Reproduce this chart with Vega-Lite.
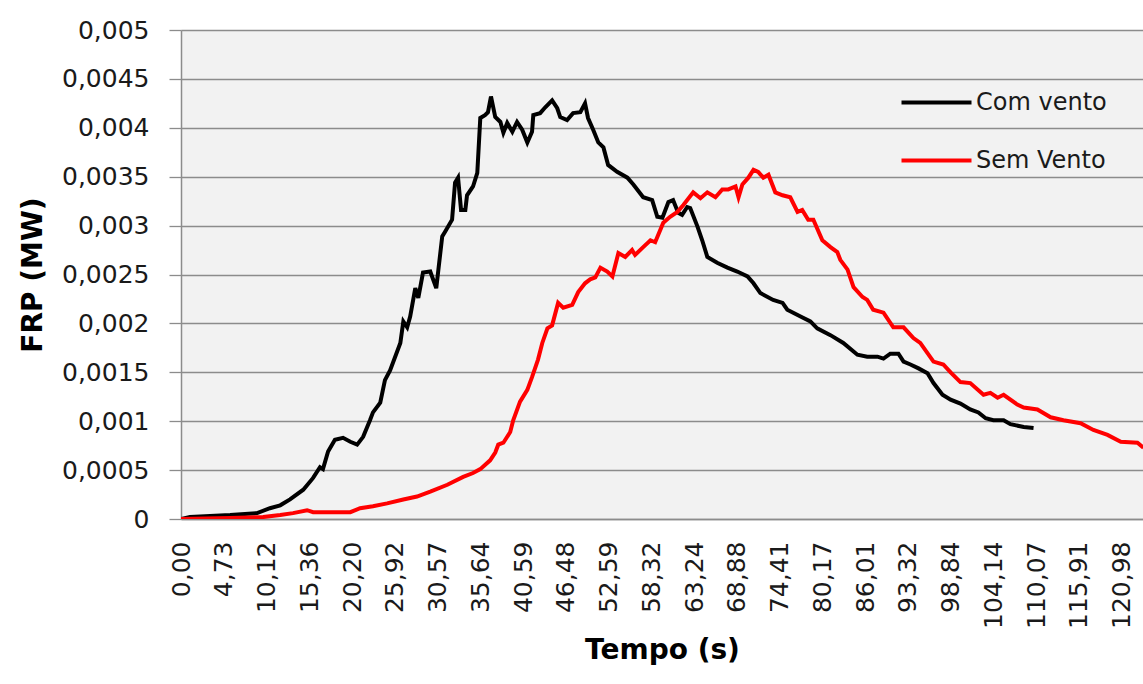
{
  "$schema": "https://vega.github.io/schema/vega-lite/v6.json",
  "width": 962,
  "height": 489,
  "autosize": "none",
  "padding": {"left": 181, "top": 30, "right": 0, "bottom": 165},
  "background": "white",
  "config": {"view": {"fill": "#f2f2f2", "stroke": null}, "font": "DejaVu Sans"},
  "data": {"values": [
    {"s":"Com vento","p":0,"v":0},
    {"s":"Com vento","p":0.21,"v":0.00002},
    {"s":"Com vento","p":1.15,"v":0.00004},
    {"s":"Com vento","p":1.78,"v":0.00006},
    {"s":"Com vento","p":2.08,"v":0.00011},
    {"s":"Com vento","p":2.32,"v":0.00014},
    {"s":"Com vento","p":2.55,"v":0.0002},
    {"s":"Com vento","p":2.86,"v":0.0003},
    {"s":"Com vento","p":3.09,"v":0.00042},
    {"s":"Com vento","p":3.25,"v":0.00053},
    {"s":"Com vento","p":3.32,"v":0.00051},
    {"s":"Com vento","p":3.44,"v":0.00069},
    {"s":"Com vento","p":3.6,"v":0.00081},
    {"s":"Com vento","p":3.79,"v":0.00083},
    {"s":"Com vento","p":3.96,"v":0.00079},
    {"s":"Com vento","p":4.12,"v":0.00076},
    {"s":"Com vento","p":4.26,"v":0.00084},
    {"s":"Com vento","p":4.42,"v":0.00101},
    {"s":"Com vento","p":4.49,"v":0.00109},
    {"s":"Com vento","p":4.66,"v":0.00119},
    {"s":"Com vento","p":4.77,"v":0.00142},
    {"s":"Com vento","p":4.89,"v":0.00152},
    {"s":"Com vento","p":5.13,"v":0.0018},
    {"s":"Com vento","p":5.2,"v":0.00202},
    {"s":"Com vento","p":5.29,"v":0.00196},
    {"s":"Com vento","p":5.36,"v":0.00207},
    {"s":"Com vento","p":5.48,"v":0.00236},
    {"s":"Com vento","p":5.55,"v":0.00226},
    {"s":"Com vento","p":5.66,"v":0.00252},
    {"s":"Com vento","p":5.83,"v":0.00253},
    {"s":"Com vento","p":5.97,"v":0.00236},
    {"s":"Com vento","p":6.11,"v":0.00289},
    {"s":"Com vento","p":6.18,"v":0.00294},
    {"s":"Com vento","p":6.34,"v":0.00306},
    {"s":"Com vento","p":6.41,"v":0.00344},
    {"s":"Com vento","p":6.48,"v":0.00349},
    {"s":"Com vento","p":6.55,"v":0.00316},
    {"s":"Com vento","p":6.65,"v":0.00316},
    {"s":"Com vento","p":6.69,"v":0.00331},
    {"s":"Com vento","p":6.83,"v":0.0034},
    {"s":"Com vento","p":6.93,"v":0.00354},
    {"s":"Com vento","p":7.0,"v":0.0041},
    {"s":"Com vento","p":7.11,"v":0.00413},
    {"s":"Com vento","p":7.18,"v":0.00416},
    {"s":"Com vento","p":7.25,"v":0.00432},
    {"s":"Com vento","p":7.35,"v":0.00411},
    {"s":"Com vento","p":7.47,"v":0.00406},
    {"s":"Com vento","p":7.54,"v":0.00395},
    {"s":"Com vento","p":7.63,"v":0.00405},
    {"s":"Com vento","p":7.75,"v":0.00396},
    {"s":"Com vento","p":7.86,"v":0.00406},
    {"s":"Com vento","p":7.98,"v":0.00398},
    {"s":"Com vento","p":8.1,"v":0.00385},
    {"s":"Com vento","p":8.21,"v":0.00396},
    {"s":"Com vento","p":8.24,"v":0.00413},
    {"s":"Com vento","p":8.4,"v":0.00415},
    {"s":"Com vento","p":8.52,"v":0.00421},
    {"s":"Com vento","p":8.68,"v":0.00428},
    {"s":"Com vento","p":8.8,"v":0.0042},
    {"s":"Com vento","p":8.87,"v":0.00411},
    {"s":"Com vento","p":9.03,"v":0.00408},
    {"s":"Com vento","p":9.17,"v":0.00415},
    {"s":"Com vento","p":9.34,"v":0.00416},
    {"s":"Com vento","p":9.45,"v":0.00425},
    {"s":"Com vento","p":9.52,"v":0.0041},
    {"s":"Com vento","p":9.64,"v":0.00398},
    {"s":"Com vento","p":9.76,"v":0.00385},
    {"s":"Com vento","p":9.88,"v":0.0038},
    {"s":"Com vento","p":9.99,"v":0.00362},
    {"s":"Com vento","p":10.2,"v":0.00355},
    {"s":"Com vento","p":10.44,"v":0.00349},
    {"s":"Com vento","p":10.58,"v":0.00342},
    {"s":"Com vento","p":10.81,"v":0.00329},
    {"s":"Com vento","p":11.02,"v":0.00326},
    {"s":"Com vento","p":11.14,"v":0.00309},
    {"s":"Com vento","p":11.26,"v":0.00308},
    {"s":"Com vento","p":11.4,"v":0.00324},
    {"s":"Com vento","p":11.51,"v":0.00326},
    {"s":"Com vento","p":11.63,"v":0.00313},
    {"s":"Com vento","p":11.72,"v":0.00311},
    {"s":"Com vento","p":11.84,"v":0.00319},
    {"s":"Com vento","p":11.91,"v":0.00318},
    {"s":"Com vento","p":12.08,"v":0.00299},
    {"s":"Com vento","p":12.19,"v":0.00285},
    {"s":"Com vento","p":12.31,"v":0.00268},
    {"s":"Com vento","p":12.54,"v":0.00262},
    {"s":"Com vento","p":12.78,"v":0.00257},
    {"s":"Com vento","p":13.01,"v":0.00253},
    {"s":"Com vento","p":13.25,"v":0.00248},
    {"s":"Com vento","p":13.39,"v":0.00241},
    {"s":"Com vento","p":13.55,"v":0.00231},
    {"s":"Com vento","p":13.85,"v":0.00224},
    {"s":"Com vento","p":14.07,"v":0.00221},
    {"s":"Com vento","p":14.18,"v":0.00214},
    {"s":"Com vento","p":14.49,"v":0.00207},
    {"s":"Com vento","p":14.72,"v":0.00202},
    {"s":"Com vento","p":14.88,"v":0.00195},
    {"s":"Com vento","p":15.19,"v":0.00188},
    {"s":"Com vento","p":15.49,"v":0.0018},
    {"s":"Com vento","p":15.82,"v":0.00168},
    {"s":"Com vento","p":16.05,"v":0.00166},
    {"s":"Com vento","p":16.29,"v":0.00166},
    {"s":"Com vento","p":16.43,"v":0.00164},
    {"s":"Com vento","p":16.59,"v":0.00169},
    {"s":"Com vento","p":16.78,"v":0.00169},
    {"s":"Com vento","p":16.9,"v":0.00161},
    {"s":"Com vento","p":17.06,"v":0.00158},
    {"s":"Com vento","p":17.25,"v":0.00154},
    {"s":"Com vento","p":17.46,"v":0.00149},
    {"s":"Com vento","p":17.6,"v":0.00139},
    {"s":"Com vento","p":17.81,"v":0.00127},
    {"s":"Com vento","p":18.0,"v":0.00122},
    {"s":"Com vento","p":18.23,"v":0.00118},
    {"s":"Com vento","p":18.46,"v":0.00112},
    {"s":"Com vento","p":18.65,"v":0.00109},
    {"s":"Com vento","p":18.82,"v":0.00103},
    {"s":"Com vento","p":19.0,"v":0.00101},
    {"s":"Com vento","p":19.24,"v":0.00101},
    {"s":"Com vento","p":19.4,"v":0.00097},
    {"s":"Com vento","p":19.71,"v":0.00094},
    {"s":"Com vento","p":19.94,"v":0.00093},
    {"s":"Sem Vento","p":0,"v":0},
    {"s":"Sem Vento","p":1.15,"v":0.00001},
    {"s":"Sem Vento","p":1.92,"v":0.00002},
    {"s":"Sem Vento","p":2.32,"v":0.00004},
    {"s":"Sem Vento","p":2.62,"v":0.00006},
    {"s":"Sem Vento","p":2.95,"v":0.00009},
    {"s":"Sem Vento","p":3.09,"v":0.00007},
    {"s":"Sem Vento","p":3.49,"v":0.00007},
    {"s":"Sem Vento","p":3.96,"v":0.00007},
    {"s":"Sem Vento","p":4.19,"v":0.00011},
    {"s":"Sem Vento","p":4.49,"v":0.00013},
    {"s":"Sem Vento","p":4.82,"v":0.00016},
    {"s":"Sem Vento","p":5.2,"v":0.0002},
    {"s":"Sem Vento","p":5.52,"v":0.00023},
    {"s":"Sem Vento","p":5.83,"v":0.00028},
    {"s":"Sem Vento","p":6.23,"v":0.00035},
    {"s":"Sem Vento","p":6.6,"v":0.00043},
    {"s":"Sem Vento","p":6.83,"v":0.00047},
    {"s":"Sem Vento","p":7.0,"v":0.00051},
    {"s":"Sem Vento","p":7.23,"v":0.0006},
    {"s":"Sem Vento","p":7.35,"v":0.00068},
    {"s":"Sem Vento","p":7.42,"v":0.00076},
    {"s":"Sem Vento","p":7.54,"v":0.00078},
    {"s":"Sem Vento","p":7.7,"v":0.00089},
    {"s":"Sem Vento","p":7.77,"v":0.00101},
    {"s":"Sem Vento","p":7.93,"v":0.0012},
    {"s":"Sem Vento","p":8.1,"v":0.00132},
    {"s":"Sem Vento","p":8.21,"v":0.00145},
    {"s":"Sem Vento","p":8.35,"v":0.00163},
    {"s":"Sem Vento","p":8.45,"v":0.0018},
    {"s":"Sem Vento","p":8.57,"v":0.00195},
    {"s":"Sem Vento","p":8.68,"v":0.00198},
    {"s":"Sem Vento","p":8.82,"v":0.00221},
    {"s":"Sem Vento","p":8.94,"v":0.00216},
    {"s":"Sem Vento","p":9.15,"v":0.00219},
    {"s":"Sem Vento","p":9.29,"v":0.00232},
    {"s":"Sem Vento","p":9.45,"v":0.00241},
    {"s":"Sem Vento","p":9.57,"v":0.00245},
    {"s":"Sem Vento","p":9.69,"v":0.00247},
    {"s":"Sem Vento","p":9.81,"v":0.00257},
    {"s":"Sem Vento","p":9.97,"v":0.00253},
    {"s":"Sem Vento","p":10.09,"v":0.00248},
    {"s":"Sem Vento","p":10.23,"v":0.00272},
    {"s":"Sem Vento","p":10.39,"v":0.00268},
    {"s":"Sem Vento","p":10.55,"v":0.00275},
    {"s":"Sem Vento","p":10.62,"v":0.0027},
    {"s":"Sem Vento","p":10.81,"v":0.00278},
    {"s":"Sem Vento","p":10.98,"v":0.00285},
    {"s":"Sem Vento","p":11.09,"v":0.00283},
    {"s":"Sem Vento","p":11.28,"v":0.00303},
    {"s":"Sem Vento","p":11.44,"v":0.00309},
    {"s":"Sem Vento","p":11.61,"v":0.00314},
    {"s":"Sem Vento","p":11.75,"v":0.00321},
    {"s":"Sem Vento","p":11.98,"v":0.00334},
    {"s":"Sem Vento","p":12.15,"v":0.00328},
    {"s":"Sem Vento","p":12.31,"v":0.00334},
    {"s":"Sem Vento","p":12.5,"v":0.00329},
    {"s":"Sem Vento","p":12.66,"v":0.00337},
    {"s":"Sem Vento","p":12.8,"v":0.00337},
    {"s":"Sem Vento","p":12.97,"v":0.0034},
    {"s":"Sem Vento","p":13.04,"v":0.00329},
    {"s":"Sem Vento","p":13.13,"v":0.00342},
    {"s":"Sem Vento","p":13.27,"v":0.00349},
    {"s":"Sem Vento","p":13.39,"v":0.00357},
    {"s":"Sem Vento","p":13.5,"v":0.00355},
    {"s":"Sem Vento","p":13.62,"v":0.00349},
    {"s":"Sem Vento","p":13.74,"v":0.00352},
    {"s":"Sem Vento","p":13.9,"v":0.00334},
    {"s":"Sem Vento","p":14.07,"v":0.00331},
    {"s":"Sem Vento","p":14.25,"v":0.00329},
    {"s":"Sem Vento","p":14.42,"v":0.00314},
    {"s":"Sem Vento","p":14.53,"v":0.00316},
    {"s":"Sem Vento","p":14.67,"v":0.00306},
    {"s":"Sem Vento","p":14.79,"v":0.00306},
    {"s":"Sem Vento","p":15.0,"v":0.00285},
    {"s":"Sem Vento","p":15.19,"v":0.00278},
    {"s":"Sem Vento","p":15.35,"v":0.00273},
    {"s":"Sem Vento","p":15.42,"v":0.00265},
    {"s":"Sem Vento","p":15.59,"v":0.00255},
    {"s":"Sem Vento","p":15.73,"v":0.00237},
    {"s":"Sem Vento","p":15.94,"v":0.00227},
    {"s":"Sem Vento","p":16.05,"v":0.00224},
    {"s":"Sem Vento","p":16.19,"v":0.00214},
    {"s":"Sem Vento","p":16.43,"v":0.00211},
    {"s":"Sem Vento","p":16.66,"v":0.00196},
    {"s":"Sem Vento","p":16.9,"v":0.00196},
    {"s":"Sem Vento","p":17.13,"v":0.00185},
    {"s":"Sem Vento","p":17.29,"v":0.0018},
    {"s":"Sem Vento","p":17.6,"v":0.00161},
    {"s":"Sem Vento","p":17.83,"v":0.00158},
    {"s":"Sem Vento","p":18.0,"v":0.0015},
    {"s":"Sem Vento","p":18.23,"v":0.0014},
    {"s":"Sem Vento","p":18.46,"v":0.00139},
    {"s":"Sem Vento","p":18.77,"v":0.00127},
    {"s":"Sem Vento","p":18.93,"v":0.00129},
    {"s":"Sem Vento","p":19.1,"v":0.00124},
    {"s":"Sem Vento","p":19.24,"v":0.00127},
    {"s":"Sem Vento","p":19.56,"v":0.00117},
    {"s":"Sem Vento","p":19.71,"v":0.00114},
    {"s":"Sem Vento","p":20.03,"v":0.00112},
    {"s":"Sem Vento","p":20.34,"v":0.00104},
    {"s":"Sem Vento","p":20.64,"v":0.00101},
    {"s":"Sem Vento","p":21.04,"v":0.00098},
    {"s":"Sem Vento","p":21.34,"v":0.00091},
    {"s":"Sem Vento","p":21.67,"v":0.00086},
    {"s":"Sem Vento","p":21.98,"v":0.00079},
    {"s":"Sem Vento","p":22.37,"v":0.00078},
    {"s":"Sem Vento","p":22.51,"v":0.00073}
  ]},
  "mark": {"type": "line", "strokeWidth": 4, "clip": true},
  "encoding": {
    "x": {
      "field": "p", "type": "quantitative",
      "scale": {"domain": [0, 22.5], "nice": false, "zero": false},
      "axis": {
        "values": [0,1,2,3,4,5,6,7,8,9,10,11,12,13,14,15,16,17,18,19,20,21,22],
        "labelExpr": "['0,00','4,73','10,12','15,36','20,20','25,92','30,57','35,64','40,59','46,48','52,59','58,32','63,24','68,88','74,41','80,17','86,01','93,32','98,84','104,14','110,07','115,91','120,98'][datum.value]",
        "labelAngle": -90, "labelFontSize": 25, "labelColor": "#1a1a1a",
        "labelPadding": 22, "ticks": false, "grid": false,
        "labelFlush": false, "labelOverlap": false,
        "domainColor": "#8c8c8c", "domainWidth": 1.5,
        "title": "Tempo (s)", "titleFontSize": 28, "titleFontWeight": "bold",
        "titleColor": "#000000", "titlePadding": 8
      }
    },
    "y": {
      "field": "v", "type": "quantitative",
      "scale": {"domain": [0, 0.005], "nice": false},
      "axis": {
        "values": [0,0.0005,0.001,0.0015,0.002,0.0025,0.003,0.0035,0.004,0.0045,0.005],
        "labelExpr": "replace(format(datum.value, '~g'), '.', ',')",
        "labelFontSize": 25, "labelColor": "#1a1a1a", "labelPadding": 20,
        "grid": true, "gridColor": "#8c8c8c", "gridWidth": 1.3,
        "tickColor": "#8c8c8c", "tickSize": 12, "tickWidth": 1.3,
        "domainColor": "#8c8c8c", "domainWidth": 1.5,
        "title": "FRP (MW)", "titleFontSize": 28, "titleFontWeight": "bold",
        "titleColor": "#000000", "titlePadding": 14
      }
    },
    "color": {
      "field": "s", "type": "nominal",
      "scale": {"domain": ["Com vento", "Sem Vento"], "range": ["#000000", "#ff0000"]},
      "legend": {
        "orient": "none", "legendX": 736, "legendY": 53, "title": null,
        "symbolType": "M-2,0H2", "symbolSize": 1225, "symbolStrokeWidth": 4,
        "labelFontSize": 24, "labelColor": "#1a1a1a", "labelOffset": 20,
        "rowPadding": 26, "padding": 0
      }
    }
  }
}
